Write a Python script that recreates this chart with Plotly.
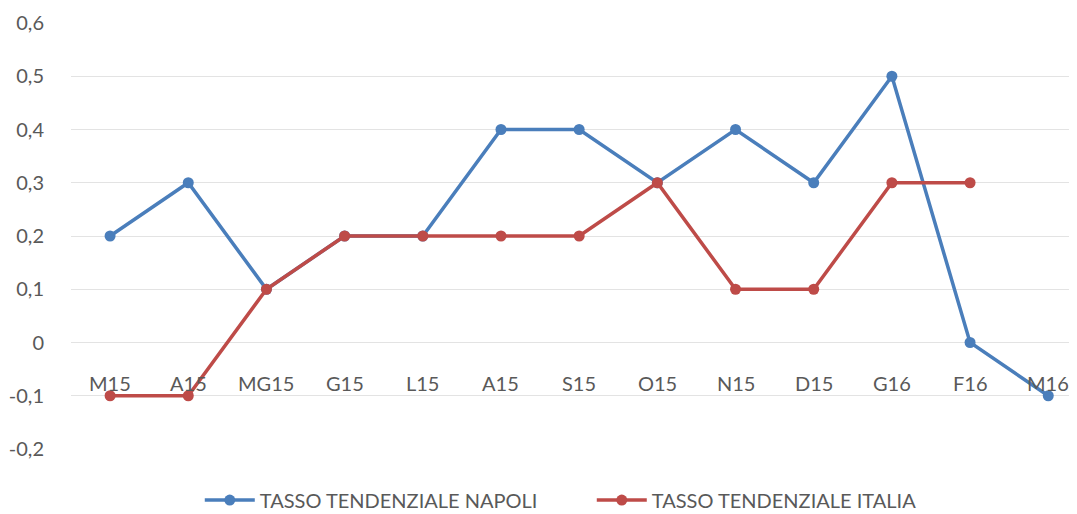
import plotly.graph_objects as go

categories = ["M15", "A15", "MG15", "G15", "L15", "A15", "S15", "O15", "N15", "D15", "G16", "F16", "M16"]
napoli = [0.2, 0.3, 0.1, 0.2, 0.2, 0.4, 0.4, 0.3, 0.4, 0.3, 0.5, 0.0, -0.1]
italia = [-0.1, -0.1, 0.1, 0.2, 0.2, 0.2, 0.2, 0.3, 0.1, 0.1, 0.3, 0.3, None]
y_tickvals = [-0.2, -0.1, 0, 0.1, 0.2, 0.3, 0.4, 0.5, 0.6]
y_ticktext = ["-0,2", "-0,1", "0", "0,1", "0,2", "0,3", "0,4", "0,5", "0,6"]

xs = list(range(len(categories)))
FONT = "Lato, 'Open Sans', sans-serif"
GRAY = "#595959"

fig = go.Figure()
fig.add_trace(go.Scatter(
    x=xs, y=napoli, name="TASSO TENDENZIALE NAPOLI", mode="lines+markers",
    line=dict(color="#4a7ebb", width=3.5), marker=dict(color="#4a7ebb", size=11),
    cliponaxis=False))
fig.add_trace(go.Scatter(
    x=xs, y=italia, name="TASSO TENDENZIALE ITALIA", mode="lines+markers",
    line=dict(color="#be4b48", width=3.5), marker=dict(color="#be4b48", size=11),
    cliponaxis=False))

for i, c in enumerate(categories):
    fig.add_annotation(x=i, y=0, xref="x", yref="y", text=c, showarrow=False,
                       yshift=-40, font=dict(family=FONT, size=20, color=GRAY))

fig.update_layout(
    width=1077, height=514,
    margin=dict(l=63, r=0, t=15, b=73, autoexpand=False),
    paper_bgcolor="white", plot_bgcolor="white",
    font=dict(family=FONT, size=20, color=GRAY),
    showlegend=True,
    legend=dict(orientation="h", x=0.127, xanchor="left", y=-0.12, yanchor="middle",
                font=dict(family=FONT, size=20, color=GRAY), itemwidth=50,
                entrywidth=327, entrywidthmode="pixels",
                traceorder="normal"),
    xaxis=dict(range=[-0.5, 12.47], showgrid=False, zeroline=False,
               showticklabels=False, showline=False, automargin=False),
    yaxis=dict(range=[-0.2, 0.6], tickvals=y_tickvals, ticktext=y_ticktext,
               showgrid=True, gridcolor="#e3e3e3", gridwidth=1, zeroline=False,
               showline=False, ticks="", ticklabelstandoff=26, automargin=False,
               tickfont=dict(family=FONT, size=20, color=GRAY)),
)

fig.write_html("out.html")
